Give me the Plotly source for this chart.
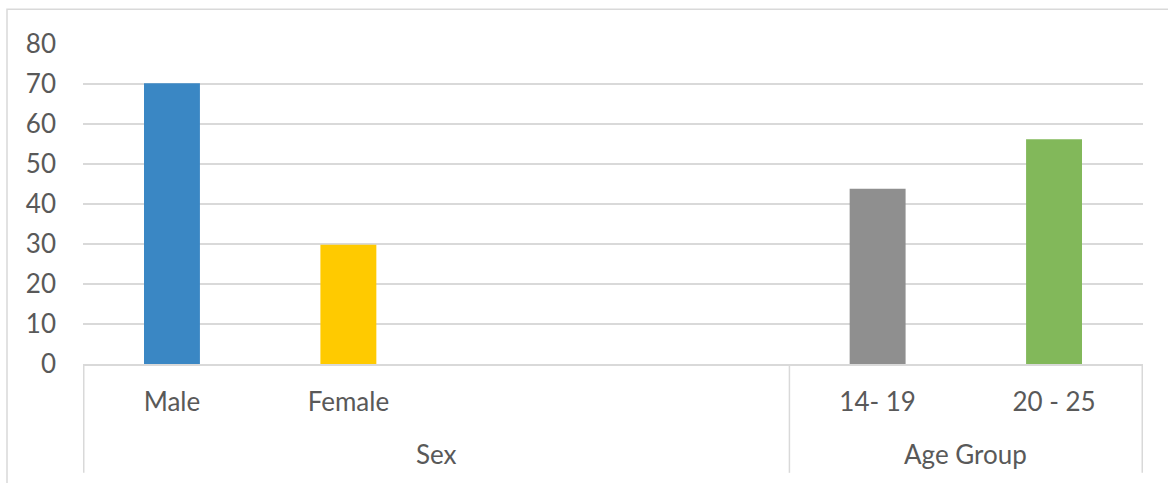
import plotly.graph_objects as go

# Category slots: two groups on a shared axis; the Sex group has two unused slots
groups = ["Sex", "Age Group"]
group_sizes = [4, 2]
categories = ["Male", "Female", " ", "  ", "14- 19", "20 - 25"]
values = [70.2, 29.8, None, None, 43.8, 56.2]
colors = ["#3A87C4", "#FFCA00", "#FFFFFF", "#FFFFFF", "#8F8F8F", "#82B85A"]
y_ticks = [0, 10, 20, 30, 40, 50, 60, 70, 80]

FONT = "Lato, 'Open Sans', sans-serif"
TEXT = "#595959"
LINE = "#D9D9D9"
SIZE = 26

fig = go.Figure(
    go.Bar(
        x=categories,
        y=values,
        marker=dict(color=colors, line=dict(width=0)),
        hoverinfo="x+y",
    )
)

# group boundary lines and centred group labels under the category labels
shapes = []
annotations = []
start = 0
bounds = [-0.5]
for name, size in zip(groups, group_sizes):
    end = start + size
    bounds.append(end - 0.5)
    annotations.append(
        dict(
            x=(start + end - 1) / 2, xref="x",
            y=-0.28, yref="paper",
            text=name, showarrow=False,
            xanchor="center", yanchor="middle",
            font=dict(family=FONT, size=SIZE, color=TEXT),
        )
    )
    start = end
for b in bounds:
    shapes.append(
        dict(type="line", xref="x", yref="paper",
             x0=b, x1=b, y0=0, y1=-0.34,
             line=dict(color=LINE, width=1.5))
    )

# chart border
shapes.append(
    dict(type="rect", xref="paper", yref="paper",
         x0=-76 / 1060, x1=1090 / 1060,
         y0=-0.5, y1=1 + 34.7 / 319.8,
         line=dict(color=LINE, width=1.5), fillcolor="rgba(0,0,0,0)",
         layer="below")
)

fig.update_layout(
    width=1168, height=483,
    margin=dict(l=83, r=25, t=44, b=119, pad=0),
    paper_bgcolor="white", plot_bgcolor="white",
    bargap=0.683,
    showlegend=False,
    font=dict(family=FONT, size=SIZE, color=TEXT),
    shapes=shapes,
    annotations=annotations,
    xaxis=dict(
        type="category",
        categoryorder="array", categoryarray=categories,
        showgrid=False,
        showline=True, linecolor=LINE, linewidth=1.5,
        ticks="", ticklabelstandoff=14,
        tickfont=dict(family=FONT, size=SIZE, color=TEXT),
        fixedrange=True,
    ),
    yaxis=dict(
        range=[0, 80],
        tickvals=y_ticks,
        showgrid=True, gridcolor=LINE, gridwidth=1.5,
        zeroline=False, showline=False,
        ticks="", ticklabelstandoff=26,
        tickfont=dict(family=FONT, size=SIZE, color=TEXT),
        fixedrange=True,
    ),
)

fig.write_html("out.html")
